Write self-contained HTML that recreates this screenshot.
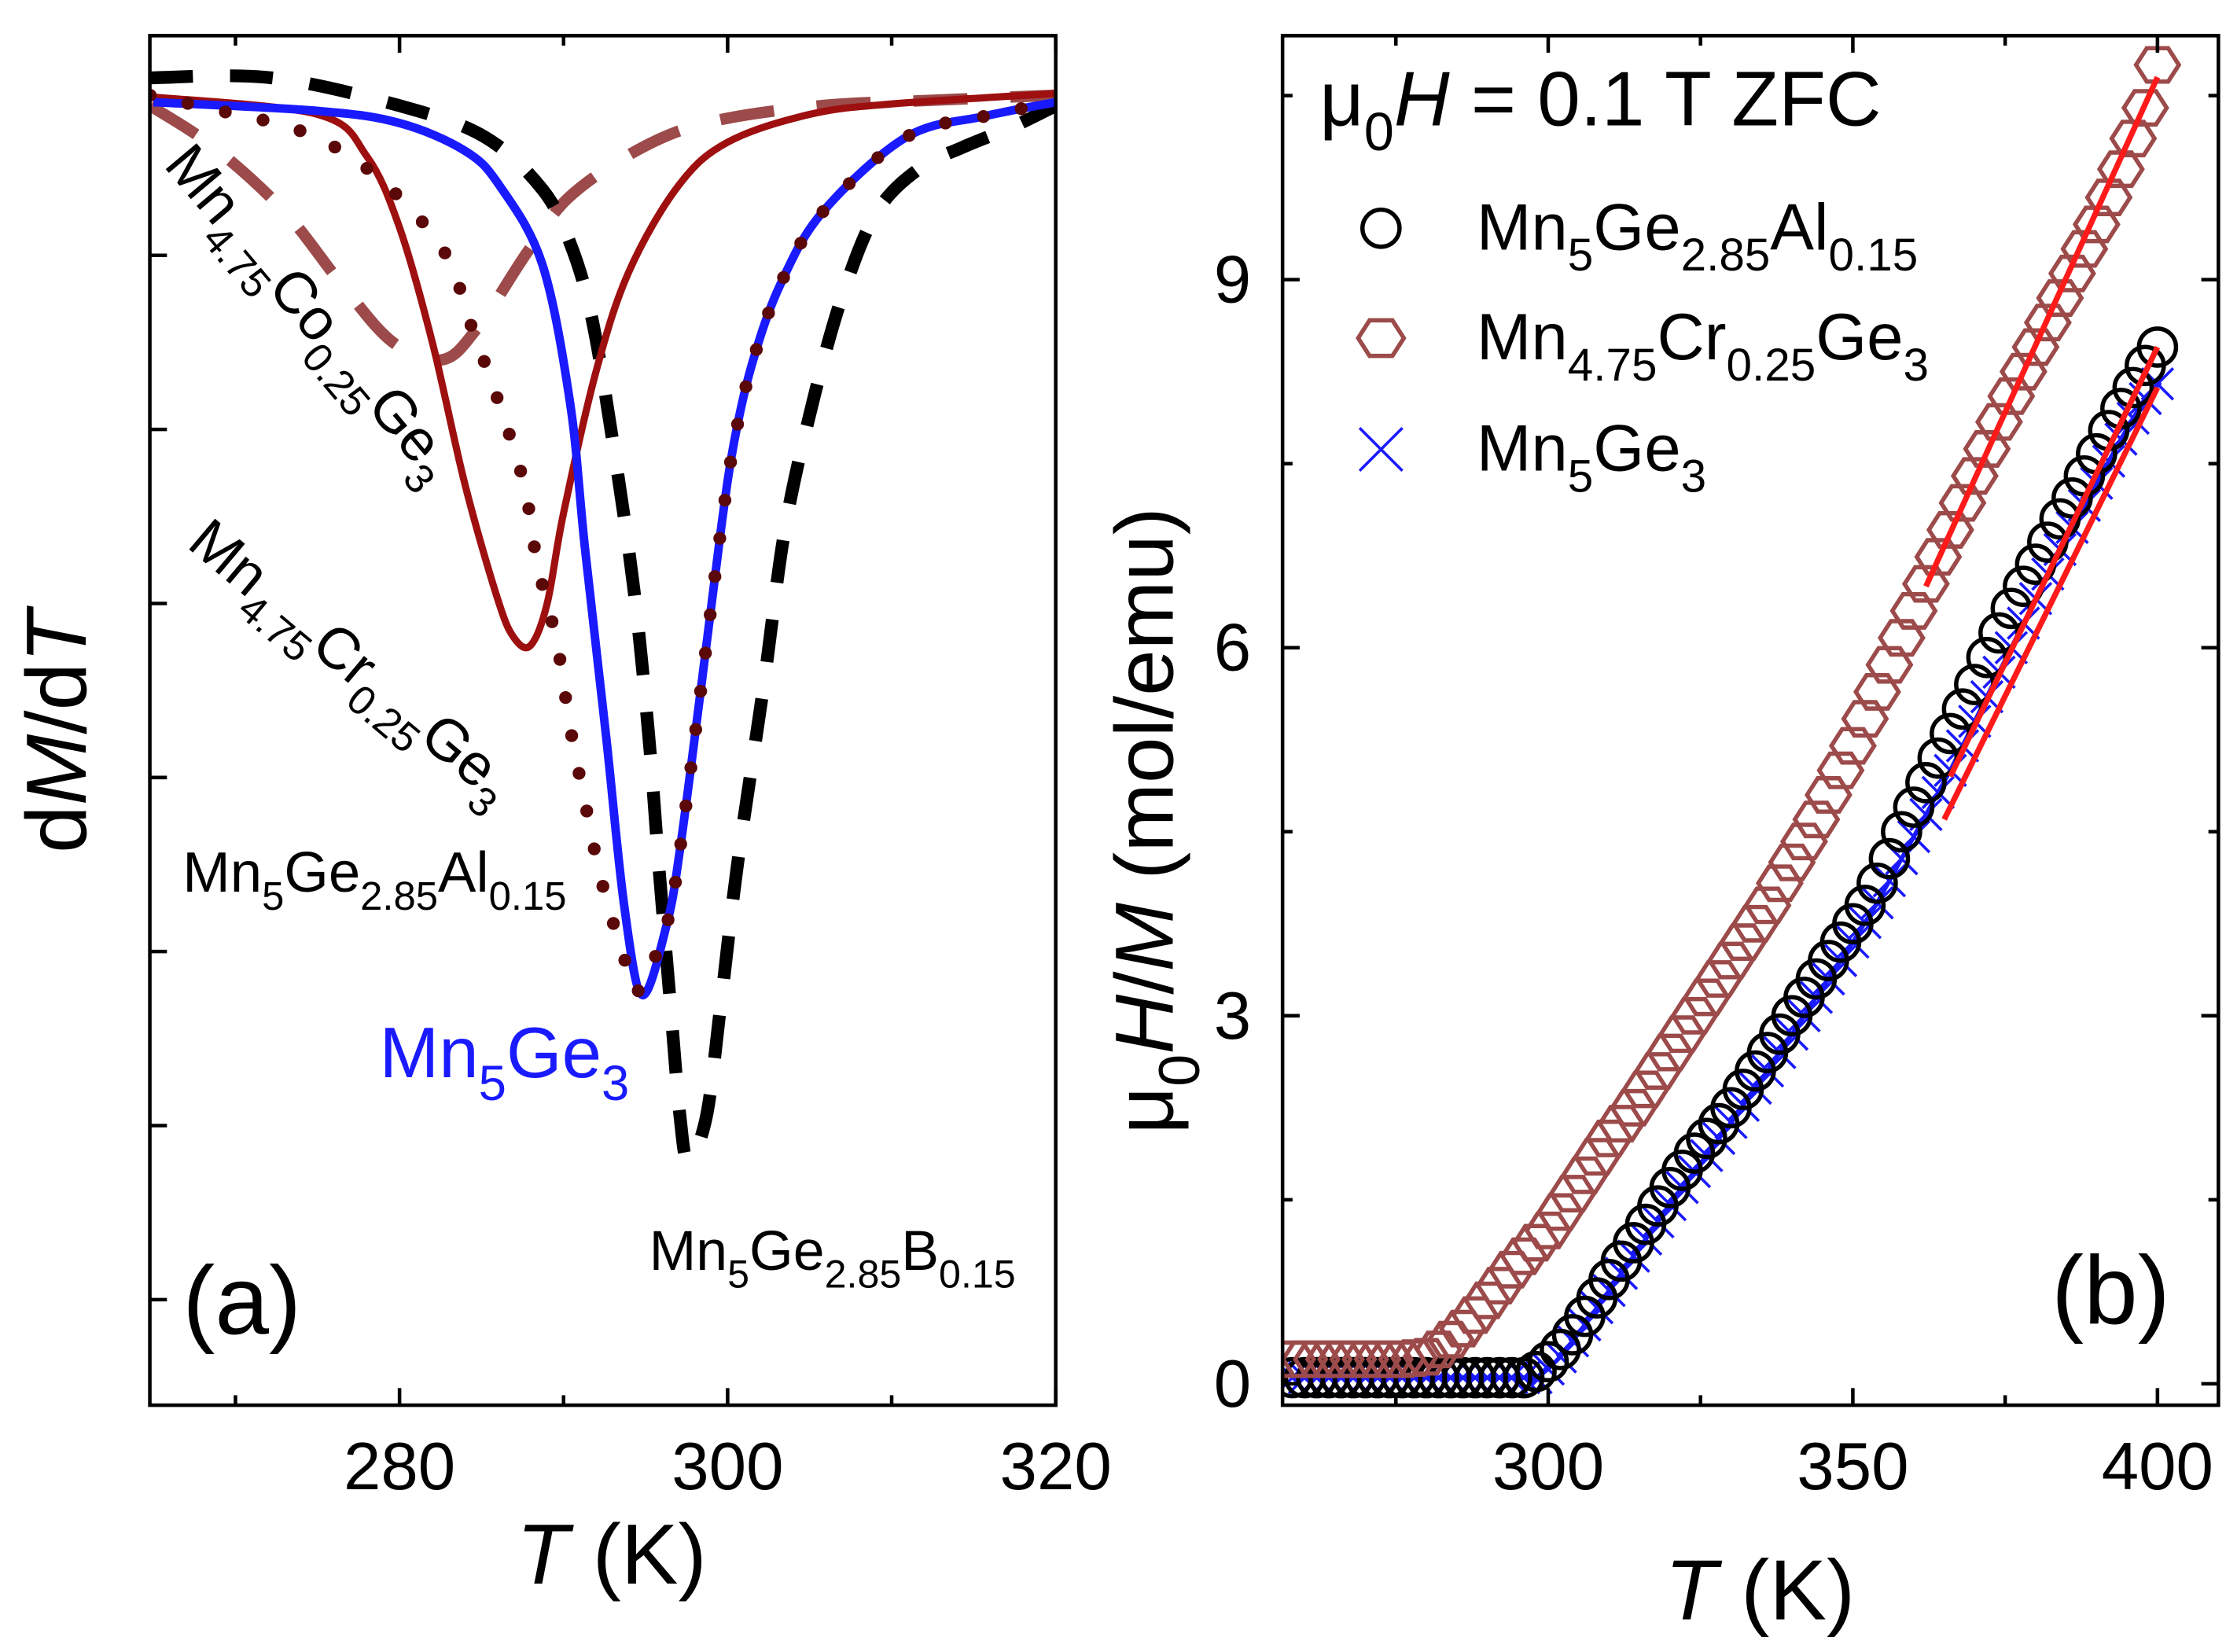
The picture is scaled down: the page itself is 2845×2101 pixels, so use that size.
<!DOCTYPE html>
<html><head><meta charset="utf-8"><style>
html,body{margin:0;padding:0;background:#fff}
svg{display:block}
text{font-family:"Liberation Sans",sans-serif}
</style></head><body>
<svg id="fig" width="2845" height="2101" viewBox="0 0 1568 1158" xmlns="http://www.w3.org/2000/svg">
<defs>
<clipPath id="clipA"><rect x="105" y="25" width="635" height="960"/></clipPath>
<clipPath id="clipB"><rect x="899" y="25" width="656" height="960"/></clipPath>
</defs>
<g id="panelA"></g>
<g id="panelB"></g>
</svg>
<script>
// ---------- Panel (a) data: dM/dT curves (T in K, arbitrary units) ----------
const blueT = [265,275,280,284,286.1,288.7,290.4,291.3,292.6,293.7,294.8,296.3,297.1,298.4,299.6,300.4,301.5,303.2,305.8,310.9,315.7,320];
const blueV = [-0.12,-0.17,-0.24,-0.4,-0.6,-1.05,-1.85,-2.68,-3.77,-4.74,-5.25,-4.84,-4.41,-3.47,-2.57,-2.07,-1.62,-1.17,-0.75,-0.32,-0.2,-0.12];
const redT = [265,275,278,280,282,284,286,287,288,289,290,292,294,297,300,305,310,320];
const redV = [-0.09,-0.19,-0.43,-0.84,-1.5,-2.32,-2.98,-3.2,-3.24,-3.0,-2.48,-1.66,-1.09,-0.6,-0.35,-0.19,-0.13,-0.07];
const alT = [264.8,269.1,274.1,278.4,282.6,284.5,286.1,287.6,288.4,289.6,290.4,291.3,292.3,293.7,294.5,296.3,297.1,298.4,299.6,300.4,301.5,303.2,305.8,310.9,315.7,320];
const alV = [-0.08,-0.17,-0.29,-0.53,-0.96,-1.44,-1.86,-2.32,-2.77,-3.23,-3.71,-4.14,-4.59,-5.04,-5.23,-4.84,-4.41,-3.47,-2.57,-2.07,-1.62,-1.17,-0.75,-0.32,-0.2,-0.12];
const bT = [264.8,272.2,280,285.2,288.7,290.4,291.7,293.0,294.3,295.2,295.8,296.5,297.1,297.6,298.7,299.6,300.6,302.2,303.5,305.2,307.0,309.1,311.7,314.3,317.4,320];
const bV = [0.02,0.02,-0.14,-0.32,-0.62,-0.93,-1.35,-2.07,-2.93,-3.77,-4.5,-5.29,-5.95,-6.2,-5.95,-5.29,-4.5,-3.47,-2.57,-1.84,-1.23,-0.75,-0.5,-0.38,-0.26,-0.14];
const coT = [264.8,268.7,273.0,276.5,279.6,282.6,284.8,287.8,290.4,294.8,299.1,305.7,312.2,320];
const coV = [-0.14,-0.38,-0.75,-1.17,-1.5,-1.6,-1.41,-0.98,-0.66,-0.38,-0.23,-0.14,-0.11,-0.08];
const aXTicks = [280,300,320];
const aXMinor = [270,290,310];
const aYTicks = [0,-1,-2,-3,-4,-5,-6,-7];

// ---------- Panel (b) data: mu0 H / M (mol/emu) ----------
const bTemps = [258,260,262,264,266,268,270,272,274,276,278,280,282,284,286,288,290,292,294,296,298,300,302,304,306,308,310,312,314,316,318,320,322,324,326,328,330,332,334,336,338,340,342,344,346,348,350,352,354,356,358,360,362,364,366,368,370,372,374,376,378,380,382,384,386,388,390,392,394,396,398,400];
const crVals = [0.2,0.2,0.2,0.2,0.2,0.2,0.2,0.2,0.2,0.2,0.21,0.22,0.28,0.36,0.45,0.56,0.68,0.8,0.93,1.04,1.15,1.25,1.4,1.55,1.7,1.85,2.0,2.12,2.25,2.4,2.55,2.7,2.85,3.0,3.15,3.3,3.45,3.6,3.75,3.9,4.08,4.25,4.42,4.6,4.8,5.0,5.2,5.42,5.64,5.86,6.08,6.3,6.52,6.74,6.96,7.18,7.4,7.62,7.84,8.05,8.25,8.45,8.65,8.85,9.05,9.25,9.45,9.67,9.9,10.15,10.4,10.75];
const alVals = [0.05,0.05,0.05,0.05,0.05,0.05,0.05,0.05,0.05,0.05,0.05,0.05,0.05,0.05,0.05,0.05,0.05,0.05,0.05,0.05,0.1,0.18,0.28,0.4,0.55,0.7,0.85,1.0,1.15,1.3,1.45,1.6,1.74,1.88,2.0,2.12,2.25,2.4,2.55,2.7,2.85,3.0,3.15,3.3,3.45,3.6,3.75,3.9,4.08,4.28,4.5,4.7,4.9,5.1,5.3,5.5,5.7,5.92,6.12,6.32,6.5,6.68,6.86,7.05,7.22,7.4,7.58,7.77,7.95,8.12,8.3,8.45];
const mnVals = [0.05,0.05,0.05,0.05,0.05,0.05,0.05,0.05,0.05,0.05,0.05,0.05,0.05,0.05,0.05,0.05,0.05,0.05,0.05,0.05,0.05,0.12,0.22,0.35,0.48,0.62,0.76,0.9,1.04,1.18,1.32,1.46,1.6,1.73,1.86,2.0,2.13,2.27,2.41,2.55,2.7,2.85,3.0,3.15,3.3,3.45,3.6,3.76,3.92,4.1,4.28,4.46,4.64,4.82,5.0,5.2,5.4,5.6,5.8,6.0,6.2,6.4,6.6,6.8,6.98,7.16,7.34,7.52,7.7,7.87,8.03,8.15];
const fitCrT = [362,400], fitCrV = [6.5,10.65];
const fitAlT = [366,400], fitAlV = [4.95,8.45];
const fitMnT = [365,400], fitMnV = [4.6,8.12];
const bXTicks = [300,350,400];
const bXMinor = [275,325,375];
const bYTicks = [0,3,6,9];
const bYMinor = [1.5,4.5,7.5,10.5];

const NS = "http://www.w3.org/2000/svg";
function mk(tag, attrs, parent){const e=document.createElementNS(NS,tag);for(const k in attrs)e.setAttribute(k,attrs[k]);parent.appendChild(e);return e;}

const axL=105, axR=740, axT=25, axB=985;
const xA = t => axL + (t-264.78)*(axR-axL)/(320-264.78);
const yA = v => 57 - v*122;
const bL=899, bR=1555;
const xB = t => bL + (t-256.4)*(bR-bL)/(410.0-256.4);
const yB = v => 970 - v*86;

function smoothPath(xs, ys){
  let d = `M${xs[0]},${ys[0]}`;
  for(let i=0;i<xs.length-1;i++){
    const x0=xs[Math.max(i-1,0)],y0=ys[Math.max(i-1,0)],x1=xs[i],y1=ys[i],x2=xs[i+1],y2=ys[i+1],x3=xs[Math.min(i+2,xs.length-1)],y3=ys[Math.min(i+2,xs.length-1)];
    const c1x=x1+(x2-x0)/6,c1y=y1+(y2-y0)/6,c2x=x2-(x3-x1)/6,c2y=y2-(y3-y1)/6;
    d+=` C${c1x},${c1y} ${c2x},${c2y} ${x2},${y2}`;
  }
  return d;
}
function curve(parent, T, V, xf, yf, style, name){
  const p = mk("path", Object.assign({d: smoothPath(T.map(xf), V.map(yf)), fill:"none"}, style), parent);
  
  
  return p;
}
function label(parent, x, y, parts, size, color, rot, name, anchor){
  const t = mk("text", {x:x, y:y, "font-size":size, fill:color||"#000"}, parent);
  if(anchor) t.setAttribute("text-anchor", anchor);
  if(rot) t.setAttribute("transform", `rotate(${rot} ${x} ${y})`);
  
  
  let shift=0;
  for(const p of parts){
    const s = mk("tspan", {}, t);
    if(p.sub){ s.setAttribute("font-size", size*0.7); s.setAttribute("dy", size*0.32-shift); shift=size*0.32; }
    else { s.setAttribute("dy", -shift); shift=0; }
    if(p.it) s.setAttribute("font-style","italic");
    s.textContent = p.t;
  }
  return t;
}

// ---------- Panel A ----------
const A = document.getElementById("panelA");
const ac = mk("g", {"clip-path":"url(#clipA)"}, A);
curve(ac, coT, coV, xA, yA, {stroke:"#9c4a4a","stroke-width":8,"stroke-dasharray":"38 30"}, "curve-mn4.75co0.25ge3");
curve(ac, bT, bV, xA, yA, {stroke:"#000","stroke-width":9,"stroke-dasharray":"30 26"}, "curve-mn5ge2.85b0.15");
curve(ac, redT, redV, xA, yA, {stroke:"#9e0f0f","stroke-width":5}, "curve-mn4.75cr0.25ge3");
curve(ac, blueT, blueV, xA, yA, {stroke:"#1a1aff","stroke-width":6}, "curve-mn5ge3");
curve(ac, alT, alV, xA, yA, {stroke:"#5a0808","stroke-width":9,"stroke-dasharray":"0 27","stroke-linecap":"round"}, "curve-mn5ge2.85al0.15");
const frameA = mk("rect", {x:axL,y:axT,width:axR-axL,height:axB-axT,fill:"none",stroke:"#000","stroke-width":2.5}, A);


for(const t of aXTicks){
  for(const [y1,y2] of [[axB,axB-12],[axT,axT+12]]){
    const l = mk("line",{x1:xA(t),x2:xA(t),y1:y1,y2:y2,stroke:"#000","stroke-width":2.5},A);
    
    
  }
  const tx = mk("text",{x:xA(t),y:1044,"font-size":47,"text-anchor":"middle"},A);
  
  
  tx.textContent = t;
}
for(const t of aXMinor){
  for(const [y1,y2] of [[axB,axB-7],[axT,axT+7]]){
    const l = mk("line",{x1:xA(t),x2:xA(t),y1:y1,y2:y2,stroke:"#000","stroke-width":2.5},A);
    
    
  }
}
for(const v of aYTicks){
  if(yA(v)<axT+5) continue;
  const l = mk("line",{x1:axL,x2:axL+12,y1:yA(v),y2:yA(v),stroke:"#000","stroke-width":2.5},A);
  
  
}
label(A, 362, 1110, [{t:"T",it:true},{t:" (K)"}], 60, "#000", 0, "x-axis-title-a");
label(A, 60, 598, [{t:"d"},{t:"M",it:true},{t:"/d"},{t:"T",it:true}], 60, "#000", -90, "y-axis-title-a");
label(A, 114, 116, [{t:"Mn"},{t:"4.75",sub:true},{t:"Co"},{t:"0.25",sub:true},{t:"Ge"},{t:"3",sub:true}], 41, "#000", 50, "label-co");
label(A, 130, 383, [{t:"Mn"},{t:"4.75",sub:true},{t:"Cr"},{t:"0.25",sub:true},{t:"Ge"},{t:"3",sub:true}], 41, "#000", 40, "label-cr");
label(A, 128, 625, [{t:"Mn"},{t:"5",sub:true},{t:"Ge"},{t:"2.85",sub:true},{t:"Al"},{t:"0.15",sub:true}], 40, "#000", 0, "label-al");
label(A, 266, 755, [{t:"Mn"},{t:"5",sub:true},{t:"Ge"},{t:"3",sub:true}], 50, "#1a1aff", 0, "label-mn5ge3");
label(A, 455, 890, [{t:"Mn"},{t:"5",sub:true},{t:"Ge"},{t:"2.85",sub:true},{t:"B"},{t:"0.15",sub:true}], 39.5, "#000", 0, "label-b");
label(A, 128, 935, [{t:"(a)"}], 68, "#000", 0, "panel-label-a");

// ---------- Panel B ----------
const B = document.getElementById("panelB");
const bc = mk("g", {"clip-path":"url(#clipB)"}, B);
function hexPath(cx, cy, r){let d="";for(let k=0;k<6;k++){const a=Math.PI/3*k;d+=(k?"L":"M")+(cx+r*Math.cos(a))+","+(cy+r*Math.sin(a)*0.9);}return d+"Z";}
const mnLine = mk("polyline",{points:bTemps.map((t,i)=>xB(t)+","+yB(mnVals[i])).join(" "),fill:"none",stroke:"#1a1aff","stroke-width":3},bc);


bTemps.forEach((t,i)=>{
  const x=xB(t), y=yB(mnVals[i]), s=11;
  const m = mk("path",{d:`M${x-s},${y-s}L${x+s},${y+s}M${x-s},${y+s}L${x+s},${y-s}`,stroke:"#1a1aff","stroke-width":2,fill:"none"},bc);
  
  
});
bTemps.forEach((t,i)=>{
  const c = mk("circle",{cx:xB(t),cy:yB(alVals[i]),r:13,fill:"none",stroke:"#000","stroke-width":3},bc);
  
  
});
bTemps.forEach((t,i)=>{
  const h = mk("path",{d:hexPath(xB(t),yB(crVals[i]),15),fill:"none",stroke:"#9c4a4a","stroke-width":3},bc);
  
  
});
[[fitCrT,fitCrV,"fit-line-cr"],[fitAlT,fitAlV,"fit-line-al"],[fitMnT,fitMnV,"fit-line-mn5ge3"]].forEach(([T,V,n])=>{
  const l = mk("line",{x1:xB(T[0]),y1:yB(V[0]),x2:xB(T[1]),y2:yB(V[1]),stroke:"#ff1a1a","stroke-width":4},bc);
  
  
});
const frameB = mk("rect", {x:bL,y:axT,width:bR-bL,height:axB-axT,fill:"none",stroke:"#000","stroke-width":2.5}, B);


for(const t of bXTicks){
  for(const [y1,y2] of [[axB,axB-12],[axT,axT+12]]){
    const l = mk("line",{x1:xB(t),x2:xB(t),y1:y1,y2:y2,stroke:"#000","stroke-width":2.5},B);
    
    
  }
  const tx = mk("text",{x:xB(t),y:1044,"font-size":47,"text-anchor":"middle"},B);
  
  
  tx.textContent = t;
}
for(const t of bXMinor){
  for(const [y1,y2] of [[axB,axB-7],[axT,axT+7]]){
    const l = mk("line",{x1:xB(t),x2:xB(t),y1:y1,y2:y2,stroke:"#000","stroke-width":2.5},B);
    
    
  }
}
for(const v of bYTicks){
  for(const [x1,x2] of [[bL,bL+12],[bR,bR-12]]){
    const l = mk("line",{x1:x1,x2:x2,y1:yB(v),y2:yB(v),stroke:"#000","stroke-width":2.5},B);
    
    
  }
  const tx = mk("text",{x:877,y:yB(v)+16,"font-size":47,"text-anchor":"end"},B);
  
  
  tx.textContent = v;
}
for(const v of bYMinor){
  for(const [x1,x2] of [[bL,bL+7],[bR,bR-7]]){
    const l = mk("line",{x1:x1,x2:x2,y1:yB(v),y2:yB(v),stroke:"#000","stroke-width":2.5},B);
    
    
  }
}
label(B, 1167, 1135, [{t:"T",it:true},{t:" (K)"}], 60, "#000", 0, "x-axis-title-b");
label(B, 822, 795, [{t:"μ"},{t:"0",sub:true},{t:"H",it:true},{t:"/"},{t:"M",it:true},{t:" (mol/emu)"}], 58, "#000", -90, "y-axis-title-b");
label(B, 925, 88, [{t:"μ"},{t:"0",sub:true},{t:"H",it:true},{t:" = 0.1 T ZFC"}], 54, "#000", 0, "field-annotation");
const lc = mk("circle",{cx:968,cy:160,r:13,fill:"none",stroke:"#000","stroke-width":3},B);


const lh = mk("path",{d:hexPath(968,237,16),fill:"none",stroke:"#9c4a4a","stroke-width":3},B);


const lx = mk("path",{d:"M953,300L983,330M953,330L983,300",stroke:"#1a1aff","stroke-width":2,fill:"none"},B);


label(B, 1035, 175, [{t:"Mn"},{t:"5",sub:true},{t:"Ge"},{t:"2.85",sub:true},{t:"Al"},{t:"0.15",sub:true}], 46, "#000", 0, "legend-entry-al");
label(B, 1035, 252, [{t:"Mn"},{t:"4.75",sub:true},{t:"Cr"},{t:"0.25",sub:true},{t:"Ge"},{t:"3",sub:true}], 46, "#000", 0, "legend-entry-cr");
label(B, 1035, 330, [{t:"Mn"},{t:"5",sub:true},{t:"Ge"},{t:"3",sub:true}], 46, "#000", 0, "legend-entry-mn5ge3");
label(B, 1438, 928, [{t:"(b)"}], 68, "#000", 0, "panel-label-b");
</script>
</body></html>
